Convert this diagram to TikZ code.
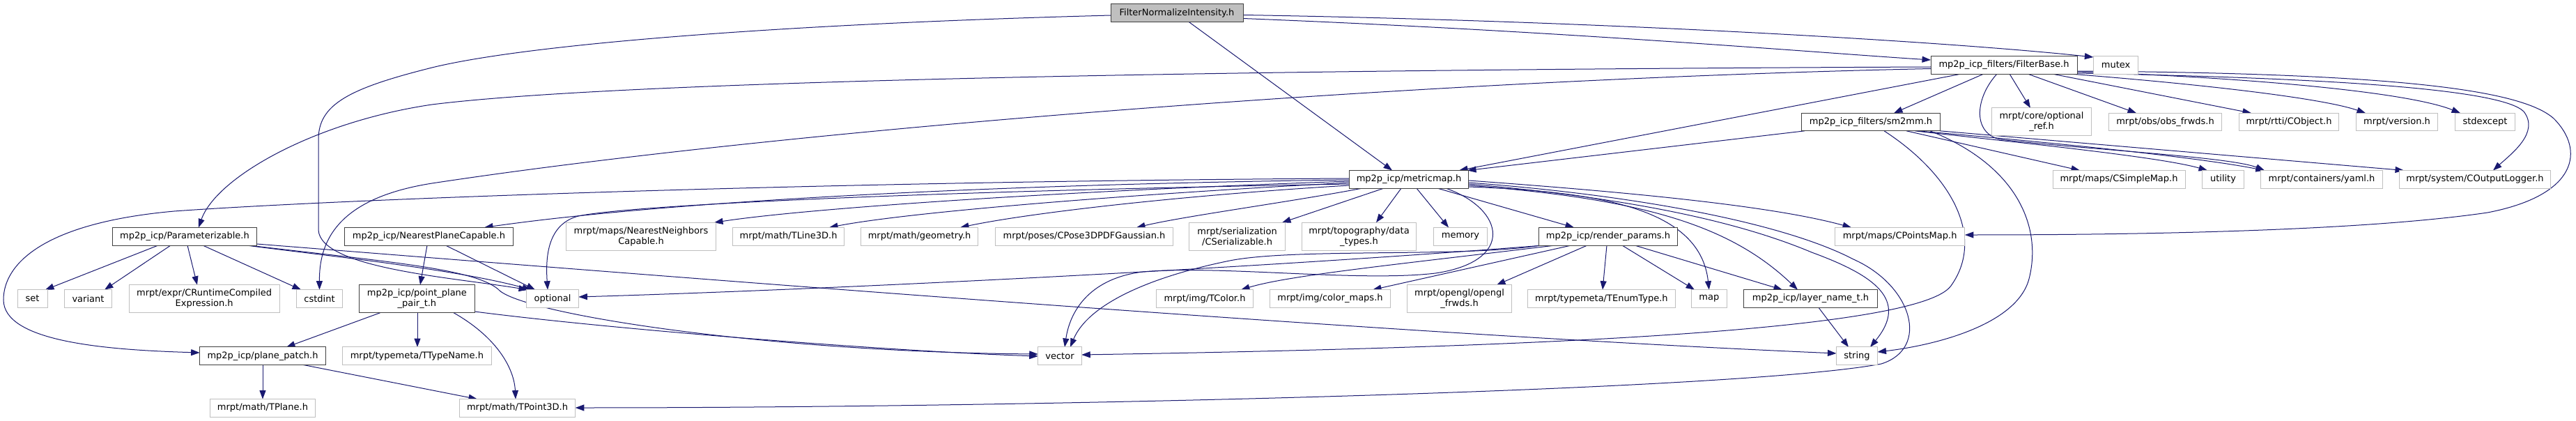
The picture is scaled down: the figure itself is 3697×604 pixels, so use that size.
\documentclass[tikz,border=0pt]{standalone}
\usepackage{fontspec}
\setmainfont{DejaVu Sans}
\usetikzlibrary{arrows.meta,calc}
\pgfdeclarelayer{bg}
\pgfsetlayers{bg,main}
\definecolor{edgecol}{HTML}{191970}
\definecolor{docgray}{HTML}{404040}
\definecolor{extgray}{HTML}{BFBFBF}
\definecolor{rootfill}{HTML}{BFBFBF}
\newcommand\nodefont{\fontsize{13pt}{15pt}\selectfont}
\begin{document}
\begin{tikzpicture}[x=1pt,y=-1pt,
  box/.style={draw, rectangle, inner sep=0pt, minimum height=25.6pt, line width=1pt, align=center, font=\nodefont, fill=white},
  doc/.style={box, draw=docgray},
  ext/.style={box, draw=extgray},
  rootn/.style={box, draw=docgray, fill=rootfill},
  two/.style={minimum height=40pt},
  e/.style={draw=edgecol, line width=1pt, -{Triangle[length=12.5pt,width=9pt]}}]
\useasboundingbox (0,0) rectangle (3697,604);
% row 0
\node[rootn, minimum width=190pt] (root) at (1689,18.5) {FilterNormalizeIntensity.h};
% row 1
\node[doc, minimum width=210pt] (filterbase) at (2876,93.5) {mp2p\_icp\_filters/FilterBase.h};
\node[ext, minimum width=64.5pt] (mutex) at (3036.6,93.5) {mutex};
% row 2
\node[doc, minimum width=198.5pt] (sm2mm) at (2685,175) {mp2p\_icp\_filters/sm2mm.h};
\node[ext, two, minimum width=143pt] (optref) at (2930,175) {mrpt/core/optional\\\_ref.h};
\node[ext, minimum width=162.7pt] (obsfrwds) at (3107.5,175) {mrpt/obs/obs\_frwds.h};
\node[ext, minimum width=142.7pt] (cobject) at (3285,175) {mrpt/rtti/CObject.h};
\node[ext, minimum width=117pt] (version) at (3440,175) {mrpt/version.h};
\node[ext, minimum width=86.7pt] (stdexcept) at (3566.5,175) {stdexcept};
% row 3
\node[doc, minimum width=171.6pt] (metricmap) at (2022,257.3) {mp2p\_icp/metricmap.h};
\node[ext, minimum width=190pt] (csimplemap) at (3041,257.3) {mrpt/maps/CSimpleMap.h};
\node[ext, minimum width=60pt] (utility) at (3190.5,257.3) {utility};
\node[ext, minimum width=174.7pt] (yaml) at (3332,257.3) {mrpt/containers/yaml.h};
\node[ext, minimum width=217.4pt] (coutlog) at (3552,257.3) {mrpt/system/COutputLogger.h};
% row 4
\node[doc, minimum width=207pt] (param) at (265,339.2) {mp2p\_icp/Parameterizable.h};
\node[doc, minimum width=241.7pt] (nearestplane) at (615.5,339.2) {mp2p\_icp/NearestPlaneCapable.h};
\node[ext, two, minimum width=214.7pt] (nearestnb) at (920,339.3) {mrpt/maps/NearestNeighbors\\Capable.h};
\node[ext, minimum width=160pt] (tline) at (1131.6,339.2) {mrpt/math/TLine3D.h};
\node[ext, minimum width=168pt] (geometry) at (1319.6,339.2) {mrpt/math/geometry.h};
\node[ext, minimum width=254.7pt] (cpose) at (1556,339.2) {mrpt/poses/CPose3DPDFGaussian.h};
\node[ext, two, minimum width=137.4pt] (cserial) at (1775.6,339.3) {mrpt/serialization\\/CSerializable.h};
\node[ext, two, minimum width=164pt] (topo) at (1950.5,339.3) {mrpt/topography/data\\\_types.h};
\node[ext, minimum width=77.5pt] (memory) at (2096,339.2) {memory};
\node[doc, minimum width=199pt] (render) at (2308,339.2) {mp2p\_icp/render\_params.h};
\node[ext, minimum width=186.6pt] (cpointsmap) at (2726.6,339.2) {mrpt/maps/CPointsMap.h};
% row 5
\node[ext, minimum width=43pt] (set) at (46.5,428.5) {set};
\node[ext, minimum width=68pt] (variant) at (126.5,428.5) {variant};
\node[ext, two, minimum width=216pt] (cruntime) at (293.2,428.7) {mrpt/expr/CRuntimeCompiled\\Expression.h};
\node[ext, minimum width=66.8pt] (cstdint) at (458.5,428.5) {cstdint};
\node[doc, two, minimum width=165.5pt] (pointplane) at (598.4,428.7) {mp2p\_icp/point\_plane\\\_pair\_t.h};
\node[ext, minimum width=74.7pt] (optional) at (793,428.5) {optional};
\node[ext, minimum width=139pt] (tcolor) at (1729,428.5) {mrpt/img/TColor.h};
\node[ext, minimum width=173pt] (colormaps) at (1909,428.5) {mrpt/img/color\_maps.h};
\node[ext, two, minimum width=149.5pt] (openglfrwds) at (2094.5,428.7) {mrpt/opengl/opengl\\\_frwds.h};
\node[ext, minimum width=211.6pt] (tenum) at (2298.4,428.5) {mrpt/typemeta/TEnumType.h};
\node[ext, minimum width=51pt] (map) at (2452.8,428.5) {map};
\node[doc, minimum width=191.4pt] (layername) at (2598.5,428.5) {mp2p\_icp/layer\_name\_t.h};
% row 6
\node[doc, minimum width=180.7pt] (planepatch) at (377,510.7) {mp2p\_icp/plane\_patch.h};
\node[ext, minimum width=213.7pt] (ttypename) at (598.4,510.7) {mrpt/typemeta/TTypeName.h};
\node[ext, minimum width=62.5pt] (vector) at (1521,510.7) {vector};
\node[ext, minimum width=59pt] (string) at (2665,510.7) {string};
% row 7
\node[ext, minimum width=150.7pt] (tplane) at (377,585.3) {mrpt/math/TPlane.h};
\node[ext, minimum width=166.5pt] (tpoint) at (742.5,585.3) {mrpt/math/TPoint3D.h};

\begin{pgfonlayer}{bg}
\fill[white] (0,0) rectangle (3697,604);
% root
\draw[e] ($(root)+(95,8)$) .. controls (2250,45) and (2600,75) .. ($(filterbase)+(-105,-7.5)$);
\draw[e] ($(root)+(95,3)$) .. controls (2300,30) and (2800,60) .. ($(mutex)+(-32.25,-11.5)$);
\draw[e] ($(root)+(17,12.8)$) -- ($(metricmap)+(-24,-12.8)$);
\draw[e] ($(root)+(-95,3.5)$) .. controls (1100,35) and (750,65) .. (620,97) .. controls (500,127) and (457,150) .. (457,200) -- (457,330) .. controls (460,385) and (650,398) .. ($(optional)+(-36,-12.8)$);
% filterbase
\draw[e] ($(filterbase)+(-105,2.5)$) .. controls (1800,100) and (900,115) .. (620,150) .. controls (450,175) and (310,255) .. ($(param)+(20,-12.8)$);
\draw[e] ($(filterbase)+(-105,5)$) .. controls (2000,115) and (1100,190) .. (620,263) .. controls (480,285) and (458,350) .. ($(cstdint)+(0,-12.8)$);
\draw[e] ($(filterbase)+(-61,12.5)$) -- ($(metricmap)+(72,-12.8)$);
\draw[e] ($(filterbase)+(-29,12.5)$) -- ($(sm2mm)+(33,-12.8)$);
\draw[e] ($(filterbase)+(8,12.5)$) -- ($(optref)+(-16,-20)$);
\draw[e] ($(filterbase)+(34,12.5)$) -- ($(obsfrwds)+(-41.5,-12.8)$);
\draw[e] ($(filterbase)+(69,12.5)$) -- ($(cobject)+(-54,-12.8)$);
\draw[e] ($(filterbase)+(94,12.5)$) .. controls (3150,120) and (3330,140) .. ($(version)+(-45,-12.8)$);
\draw[e] ($(filterbase)+(105,9.5)$) .. controls (3200,110) and (3450,130) .. ($(stdexcept)+(-35.5,-12.8)$);
\draw[e] ($(filterbase)+(105,11.5)$) .. controls (3350,112) and (3590,128) .. (3622,160) .. controls (3645,190) and (3605,220) .. ($(coutlog)+(26,-12.8)$);
\draw[e] ($(filterbase)+(105,8.5)$) .. controls (3450,105) and (3620,130) .. (3665,170) .. controls (3710,215) and (3700,280) .. (3570,305) .. controls (3400,330) and (3100,337) .. ($(cpointsmap)+(93.3,-2.2)$);
\draw[e] ($(filterbase)+(-10,12.5)$) .. controls (2835,140) and (2830,190) .. (2870,200) .. controls (3000,215) and (3200,225) .. ($(yaml)+(-82,-12.8)$);
% sm2mm
\draw[e] ($(sm2mm)+(-95,12.8)$) -- ($(metricmap)+(84,-12.8)$);
\draw[e] ($(sm2mm)+(51,12.8)$) -- ($(csimplemap)+(-56,-12.8)$);
\draw[e] ($(sm2mm)+(63,12.8)$) .. controls (2900,205) and (3100,225) .. ($(utility)+(-22.5,-12.8)$);
\draw[e] ($(sm2mm)+(67,12.8)$) .. controls (2950,205) and (3150,225) .. ($(yaml)+(-82,-12.8)$);
\draw[e] ($(sm2mm)+(99,12.8)$) -- ($(coutlog)+(-102,-12.8)$);
\draw[e] ($(sm2mm)+(19,12.8)$) .. controls (2800,250) and (2850,340) .. (2800,410) .. controls (2750,480) and (2100,500) .. ($(vector)+(31.25,-1.7)$);
\draw[e] ($(sm2mm)+(85,12.8)$) .. controls (2900,240) and (2930,330) .. (2912,400) .. controls (2895,465) and (2780,495) .. ($(string)+(29.5,-5.7)$);
% metricmap to the left
\draw[e] ($(metricmap)+(-85.8,0.7)$) .. controls (1400,265) and (950,290) .. ($(nearestplane)+(79.5,-12.8)$);
\draw[e] ($(metricmap)+(-85.8,2.7)$) .. controls (1500,275) and (1150,300) .. ($(nearestnb)+(105,-20)$);
\draw[e] ($(metricmap)+(-85.8,4.7)$) .. controls (1600,280) and (1300,305) .. ($(tline)+(58.4,-12.8)$);
\draw[e] ($(metricmap)+(-85.8,8.7)$) .. controls (1700,280) and (1480,305) .. ($(geometry)+(58.4,-12.8)$);
\draw[e] ($(metricmap)+(-67,12.8)$) .. controls (1850,290) and (1700,310) .. ($(cpose)+(75,-12.8)$);
\draw[e] ($(metricmap)+(-36,12.8)$) -- ($(cserial)+(64.4,-20)$);
\draw[e] ($(metricmap)+(-11,12.8)$) -- ($(topo)+(24.5,-20)$);
\draw[e] ($(metricmap)+(11,12.8)$) -- ($(memory)+(-17,-12.8)$);
\draw[e] ($(metricmap)+(41,12.8)$) -- ($(render)+(-49,-12.8)$);
\draw[e] ($(metricmap)+(-85.8,6.7)$) .. controls (1300,275) and (900,295) .. (830,310) .. controls (785,322) and (783,370) .. ($(optional)+(-7,-12.8)$);
\draw[e] ($(metricmap)+(-85.8,-1.3)$) .. controls (1200,260) and (500,285) .. (250,303) .. controls (60,320) and (5,380) .. (5,430) .. controls (5,490) and (150,502) .. ($(planepatch)+(-90.35,-4.7)$);
% metricmap to the right
\draw[e] ($(metricmap)+(85.8,4.7)$) .. controls (2350,280) and (2560,320) .. (2660,372) .. controls (2745,410) and (2770,500) .. (2700,522) .. controls (2500,560) and (1500,585) .. ($(tpoint)+(83.25,-0.3)$);
\draw[e] ($(metricmap)+(85.8,6.7)$) .. controls (2350,285) and (2500,320) .. (2600,362) .. controls (2690,395) and (2740,430) .. ($(string)+(19,-12.7)$);
\draw[e] ($(metricmap)+(85.8,1.7)$) .. controls (2400,280) and (2560,300) .. ($(cpointsmap)+(-69.6,-12.8)$);
\draw[e] ($(metricmap)+(85.8,8.7)$) .. controls (2350,285) and (2480,320) .. ($(layername)+(-18.5,-12.8)$);
\draw[e] ($(metricmap)+(85.8,10.7)$) .. controls (2300,275) and (2440,300) .. ($(map)+(0,-12.8)$);
\draw[e] ($(metricmap)+(53,12.8)$) .. controls (2160,300) and (2175,375) .. (2060,392) .. controls (1950,405) and (1750,380) .. (1640,390) .. controls (1560,400) and (1535,450) .. ($(vector)+(7,-12.7)$);
% render_params
\draw[e] ($(render)+(-97,12.8)$) .. controls (2100,370) and (1850,355) .. (1760,375) .. controls (1640,400) and (1560,440) .. ($(vector)+(15,-12.7)$);
\draw[e] ($(render)+(-93,12.8)$) .. controls (1800,385) and (1200,415) .. ($(optional)+(37.35,-2.5)$);
\draw[e] ($(render)+(-76,12.8)$) .. controls (2000,380) and (1850,395) .. ($(tcolor)+(52,-12.8)$);
\draw[e] ($(render)+(-53,12.8)$) -- ($(colormaps)+(61,-12.8)$);
\draw[e] ($(render)+(-30,12.8)$) -- ($(openglfrwds)+(53.5,-20)$);
\draw[e] ($(render)+(-2,12.8)$) -- ($(tenum)+(1.6,-12.8)$);
\draw[e] ($(render)+(20,12.8)$) -- ($(map)+(-20.8,-12.8)$);
\draw[e] ($(render)+(38,12.8)$) -- ($(layername)+(-40.5,-12.8)$);
% layer_name_t
\draw[e] ($(layername)+(11.5,12.8)$) -- ($(string)+(-12,-12.7)$);
% Parameterizable
\draw[e] ($(param)+(-38,12.8)$) -- ($(set)+(18.5,-12.8)$);
\draw[e] ($(param)+(-20,12.8)$) -- ($(variant)+(23.5,-12.8)$);
\draw[e] ($(param)+(4,12.8)$) -- ($(cruntime)+(-10.2,-20)$);
\draw[e] ($(param)+(26,12.8)$) -- ($(cstdint)+(-26.5,-12.8)$);
\draw[e] ($(param)+(89,12.8)$) .. controls (450,365) and (650,385) .. ($(optional)+(-31,-12.8)$);
\draw[e] ($(param)+(92,12.8)$) .. controls (550,375) and (680,385) .. (715,415) .. controls (745,450) and (1100,505) .. ($(vector)+(-31.25,-2.7)$);
\draw[e] ($(param)+(103.5,10.8)$) .. controls (1000,400) and (2000,480) .. ($(string)+(-29.5,-3.7)$);
% NearestPlaneCapable
\draw[e] ($(nearestplane)+(-2.5,12.8)$) -- ($(pointplane)+(4.6,-20)$);
\draw[e] ($(nearestplane)+(24,12.8)$) -- ($(optional)+(-25,-12.8)$);
% point_plane_pair_t
\draw[e] ($(pointplane)+(-52.7,20)$) -- ($(planepatch)+(34,-12.7)$);
\draw[e] ($(pointplane)+(0.6,20)$) -- ($(ttypename)+(0.6,-12.7)$);
\draw[e] ($(pointplane)+(52.6,20)$) .. controls (715,485) and (738,530) .. ($(tpoint)+(-2.5,-12.7)$);
\draw[e] ($(pointplane)+(82.75,18.3)$) .. controls (900,475) and (1300,505) .. ($(vector)+(-31.25,0.3)$);
% plane_patch
\draw[e] ($(planepatch)+(0,12.7)$) -- ($(tplane)+(0,-12.7)$);
\draw[e] ($(planepatch)+(58,12.7)$) -- ($(tpoint)+(-57.5,-12.7)$);
\end{pgfonlayer}
\end{tikzpicture}
\end{document}
